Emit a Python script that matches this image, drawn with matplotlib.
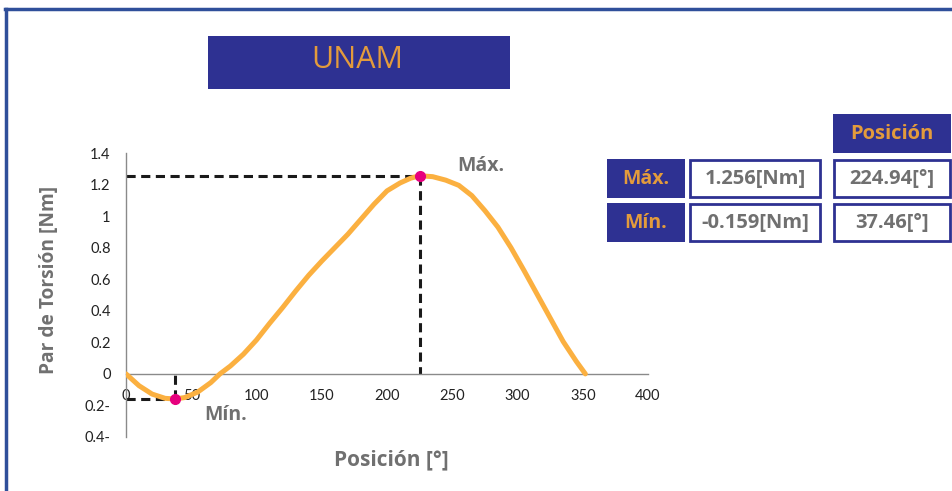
import matplotlib
matplotlib.use("Agg")
import matplotlib.pyplot as plt
from matplotlib.patches import Rectangle
from matplotlib.lines import Line2D

# Torque curve
posicion = [0, 10, 20, 30, 37.46, 45, 55, 65, 72, 80, 90, 100, 110, 120, 130,
            140, 150, 160, 170, 180, 190, 200, 210, 218, 224.94, 235, 245,
            255, 265, 275, 285, 295, 305, 315, 325, 335, 345, 352]
par = [0.0, -0.075, -0.128, -0.155, -0.159, -0.150, -0.115, -0.055, 0.0, 0.05,
       0.125, 0.215, 0.32, 0.42, 0.525, 0.625, 0.715, 0.80, 0.885, 0.98, 1.075,
       1.16, 1.21, 1.24, 1.256, 1.25, 1.228, 1.195, 1.13, 1.035, 0.93, 0.80,
       0.655, 0.505, 0.355, 0.205, 0.08, 0.0]

max_par, max_pos = 1.256, 224.94
min_par, min_pos = -0.159, 37.46

x_ticks = [0, 50, 100, 150, 200, 250, 300, 350, 400]
y_ticks = [-0.4, -0.2, 0, 0.2, 0.4, 0.6, 0.8, 1.0, 1.2, 1.4]
y_tick_labels = ['0.4-', '0.2-', '0', '0.2', '0.4', '0.6', '0.8', '1', '1.2', '1.4']

W, H = 952, 491
BLUE = '#2E3192'
ORANGE = '#E39B3C'
GRAY = '#707070'
CURVE = '#FBB040'
HEAD_FONT = 'Open Sans'


def fx(px):
    return px / W


def fy(py):
    return 1 - py / H


def box(x0, y0, x1, y1, face, edge=None, lw=0):
    fig.patches.append(Rectangle((fx(x0), fy(y1)), fx(x1) - fx(x0), fy(y0) - fy(y1),
                                 transform=fig.transFigure, facecolor=face,
                                 edgecolor=edge if edge else face, linewidth=lw))


fig = plt.figure(figsize=(W / 100, H / 100), dpi=100)

# page border (top and left)
fig.lines.append(Line2D([fx(5), fx(952)], [fy(9), fy(9)], transform=fig.transFigure,
                        color='#2F4F9A', lw=2.5))
fig.lines.append(Line2D([fx(6), fx(6)], [fy(9), fy(491)], transform=fig.transFigure,
                        color='#2F4F9A', lw=2.5))

# title box
box(208, 36, 510, 89, BLUE)
fig.text(fx(357), fy(60), 'UNAM', color=ORANGE, fontsize=22, family=HEAD_FONT,
         ha='center', va='center')

ax = fig.add_axes([fx(126), fy(437), fx(648) - fx(126), fy(153) - fy(437)])
ax.plot(posicion, par, color=CURVE, lw=3.6, solid_capstyle='round',
        solid_joinstyle='round', zorder=3)

# guide lines to max / min
dash = dict(color='#1a1a1a', lw=2.2, ls=(0, (3, 1.8)), zorder=2)
ax.plot([0, max_pos], [max_par, max_par], **dash)
ax.plot([max_pos, max_pos], [max_par, 0], **dash)
ax.plot([0, min_pos], [min_par, min_par], **dash)
ax.plot([min_pos, min_pos], [min_par, 0], **dash)
ax.plot([max_pos, min_pos], [max_par, min_par], 'o', color='#E6007E', ms=7,
        zorder=4)

ax.text(272, 1.32, 'Máx.', color=GRAY, fontsize=14, fontweight='bold',
        family=HEAD_FONT, ha='center', va='center')
ax.text(76, -0.262, 'Mín.', color=GRAY, fontsize=14, fontweight='bold',
        family=HEAD_FONT, ha='center', va='center')

ax.set_xlim(0, 400)
ax.set_ylim(-0.4, 1.4)
ax.set_xticks(x_ticks)
ax.set_xticklabels([str(t) for t in x_ticks])
ax.set_yticks(y_ticks)
ax.set_yticklabels(y_tick_labels)
ax.patch.set_visible(False)
for s in ['top', 'right']:
    ax.spines[s].set_visible(False)
ax.spines['left'].set_position(('data', 0))
ax.spines['bottom'].set_position(('data', 0))
for s in ['left', 'bottom']:
    ax.spines[s].set_color('#8a8a8a')
    ax.spines[s].set_linewidth(1)
ax.tick_params(axis='x', length=0, pad=11, labelsize=10.5, labelcolor='#222222')
ax.tick_params(axis='y', length=0, pad=11, labelsize=10.5, labelcolor='#222222')
for lab in ax.get_xticklabels() + ax.get_yticklabels():
    lab.set_family('Lato')

ax.set_xlabel('Posición [°]', color=GRAY, fontsize=15, fontweight='bold',
              family=HEAD_FONT)
ax.xaxis.set_label_coords((391 - 126) / 522, (437 - 449) / 284)
ax.set_ylabel('Par de Torsión [Nm]', color=GRAY, fontsize=13.8, fontweight='bold',
              family=HEAD_FONT)
ax.yaxis.set_label_coords((59 - 126) / 522, (437 - 280) / 284)

# summary table
box(833, 114, 951, 153, BLUE)
fig.text(fx(892), fy(134), 'Posición', color=ORANGE, fontsize=14.5,
         fontweight='bold', family=HEAD_FONT, ha='center', va='center')

rows = [('Máx.', max_par, max_pos, 159, 198), ('Mín.', min_par, min_pos, 203, 242)]
for name, val, pos, top, bot in rows:
    box(607, top, 685, bot, BLUE)
    fig.text(fx(646), fy((top + bot) / 2), name, color=ORANGE, fontsize=14,
             fontweight='bold', family=HEAD_FONT, ha='center', va='center')
    box(690, top + 1, 820, bot - 1, 'white', BLUE, 2)
    fig.text(fx(755), fy((top + bot) / 2), f'{val:.3f}[Nm]', color=GRAY,
             fontsize=14.5, fontweight='bold', family=HEAD_FONT,
             ha='center', va='center')
    box(834, top + 1, 950, bot - 1, 'white', BLUE, 2)
    fig.text(fx(892), fy((top + bot) / 2), f'{pos:.2f}[°]', color=GRAY,
             fontsize=14.5, fontweight='bold', family=HEAD_FONT,
             ha='center', va='center')

fig.savefig('out.png', dpi=100)
